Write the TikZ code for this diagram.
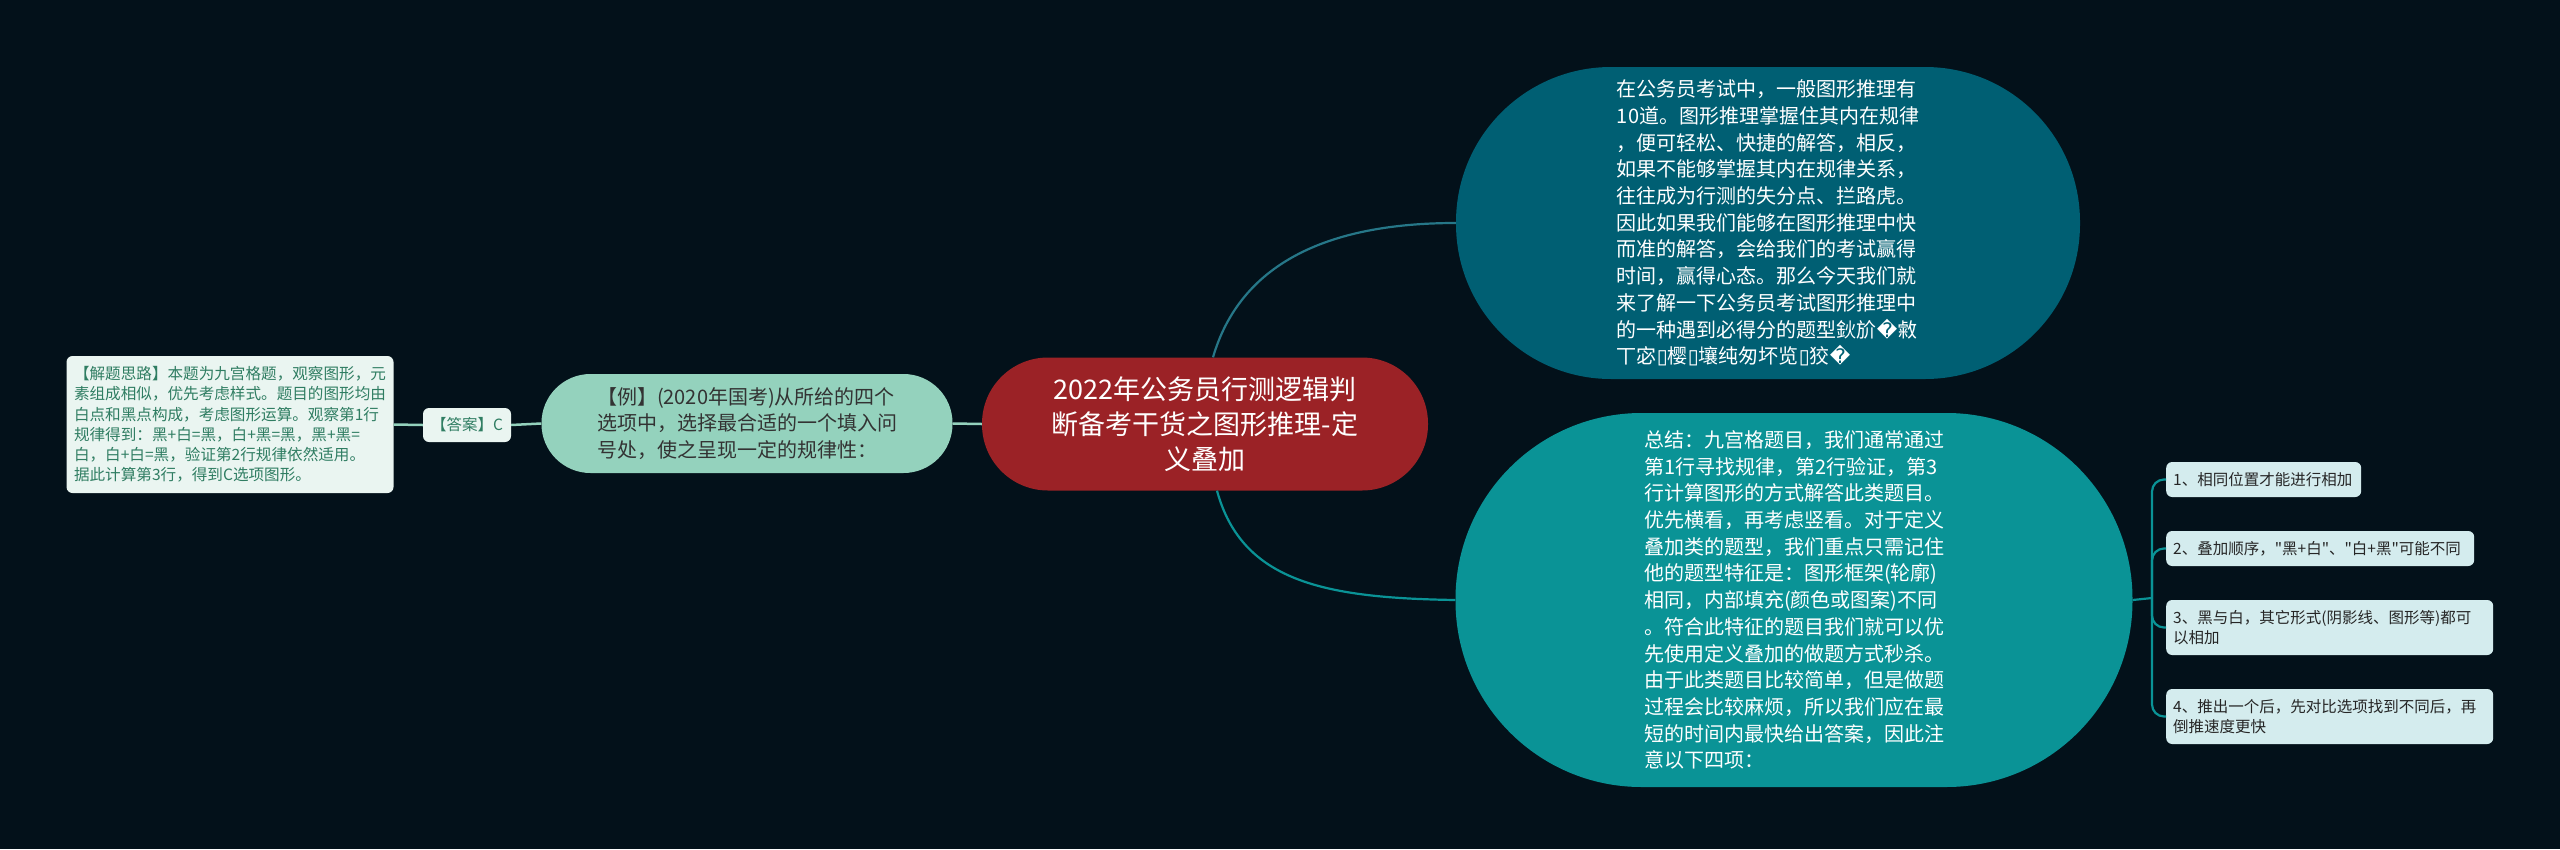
\documentclass[tikz,border=0pt]{standalone}
\usepackage{fontspec}
\setmainfont{Noto Sans CJK SC}
\newfontfamily\dejavu{DejaVu Sans}
\newfontfamily\plainq{Noto Sans CJK SC}
\definecolor{bgc}{HTML}{03111A}
\definecolor{ctrc}{HTML}{9B2226}
\definecolor{trc}{HTML}{005F73}
\definecolor{brc}{HTML}{0A9396}
\definecolor{lfc}{HTML}{94D2BD}
\definecolor{palec}{HTML}{EAF5F1}
\definecolor{greent}{HTML}{2F7D62}
\definecolor{itemc}{HTML}{D4ECEE}
\newcommand{\bx}{{\dejavu\symbol{"25AF}}}
\newcommand{\rp}{{\dejavu\symbol{"FFFD}}}
\newcommand{\sq}{{\plainq"}}
\tikzset{
  blob/.style={shape=rectangle, inner sep=0pt, align=left},
  leftline/.style={draw=lfc, line width=2.5pt},
  rightline/.style={line width=2.2pt},
  itembox/.style={shape=rectangle, fill=itemc, rounded corners=6pt, anchor=west,
    inner xsep=7pt, inner ysep=0pt, align=left, text=black!85,
    font={\fontsize{15.5pt}{20.5pt}\selectfont}},
}
\begin{document}
\begin{tikzpicture}[x=1pt,y=-1pt]
\fill[bgc] (0,0) rectangle (2560,849);
% central
\node[blob, fill=ctrc, minimum width=446pt, minimum height=133pt, rounded corners=66pt,
  text=white, align=center, font={\fontsize{27pt}{35pt}\selectfont}] (ctr) at (1205,424)
  {2022年公务员行测逻辑判\\断备考干货之图形推理-定\\义叠加};
% top right
\node[blob, fill=trc, minimum width=624pt, minimum height=312pt, rounded corners=155pt,
  text=white, font={\fontsize{20pt}{26.7pt}\selectfont}] (tr) at (1768,223)
  {在公务员考试中，一般图形推理有\\
   10道。图形推理掌握住其内在规律\\
   ，便可轻松、快捷的解答，相反，\\
   如果不能够掌握其内在规律关系，\\
   往往成为行测的失分点、拦路虎。\\
   因此如果我们能够在图形推理中快\\
   而准的解答，会给我们的考试赢得\\
   时间，赢得心态。那么今天我们就\\
   来了解一下公务员考试图形推理中\\
   的一种遇到必得分的题型鈥斺\rp 敹\\
   丅宓\bx 樱\bx 壤纯匆坏览\bx 狡\rp};
% bottom right
\node[blob, fill=brc, minimum width=677pt, minimum height=374pt, rounded corners=186pt,
  text=white, font={\fontsize{20pt}{26.7pt}\selectfont}] (br) at (1794,600)
  {总结：九宫格题目，我们通常通过\\
   第1行寻找规律，第2行验证，第3\\
   行计算图形的方式解答此类题目。\\
   优先横看，再考虑竖看。对于定义\\
   叠加类的题型，我们重点只需记住\\
   他的题型特征是：图形框架(轮廓)\\
   相同，内部填充(颜色或图案)不同\\
   。符合此特征的题目我们就可以优\\
   先使用定义叠加的做题方式秒杀。\\
   由于此类题目比较简单，但是做题\\
   过程会比较麻烦，所以我们应在最\\
   短的时间内最快给出答案，因此注\\
   意以下四项：};
% left
\node[blob, fill=lfc, minimum width=411pt, minimum height=99pt, rounded corners=49pt,
  text=black!80, font={\fontsize{20pt}{26.5pt}\selectfont}] (lft) at (747,423.5)
  {【例】(2020年国考)从所给的四个\\
   选项中，选择最合适的一个填入问\\
   号处，使之呈现一定的规律性：};
% answer
\node[blob, fill=palec, minimum width=88pt, minimum height=34pt, rounded corners=6pt,
  text=greent, align=center, font={\fontsize{15.5pt}{20pt}\selectfont}] (ans) at (467,425)
  {【答案】C};
% explanation
\node[blob, fill=palec, minimum width=327pt, minimum height=137pt, rounded corners=6pt,
  text=greent, font={\fontsize{15.6pt}{20.2pt}\selectfont}] (expl) at (230,424.5)
  {【解题思路】本题为九宫格题，观察图形，元\\
   素组成相似，优先考虑样式。题目的图形均由\\
   白点和黑点构成，考虑图形运算。观察第1行\\
   规律得到：黑+白=黑，白+黑=黑，黑+黑=\\
   白，白+白=黑，验证第2行规律依然适用。\\
   据此计算第3行，得到C选项图形。};
% items
\node[itembox, text width=181pt, minimum height=35pt] (it1) at (2166,479.5)
  {1、相同位置才能进行相加};
\node[itembox, text width=294pt, minimum height=35pt] (it2) at (2166,548.5)
  {2、叠加顺序，\sq 黑+白\sq 、\sq 白+黑\sq 可能不同};
\node[itembox, text width=313pt, minimum height=55pt] (it3) at (2166,627.5)
  {3、黑与白，其它形式(阴影线、图形等)都可\\以相加};
\node[itembox, text width=313pt, minimum height=55pt] (it4) at (2166,716.5)
  {4、推出一个后，先对比选项找到不同后，再\\倒推速度更快};
% connectors
\draw[rightline, draw=trc!85!white] ([xshift=8pt]ctr.north) .. controls (1240,265) and (1325,223) .. (tr.west);
\draw[rightline, draw=brc] ([xshift=12pt]ctr.south) .. controls (1242,582) and (1325,598) .. (br.west);
\draw[leftline] (ctr.west) -- (lft.east);
\draw[leftline] (lft.west) -- (ans.east);
\draw[leftline] (ans.west) -- (expl.east);
\coordinate (trunk) at (2152,598);
\draw[rightline, draw=brc] (br.east) -- (trunk);
\foreach \i in {1,2,3,4}{
  \draw[rightline, draw=brc, rounded corners=12pt] (trunk) |- (it\i.west);
}
\end{tikzpicture}
\end{document}
